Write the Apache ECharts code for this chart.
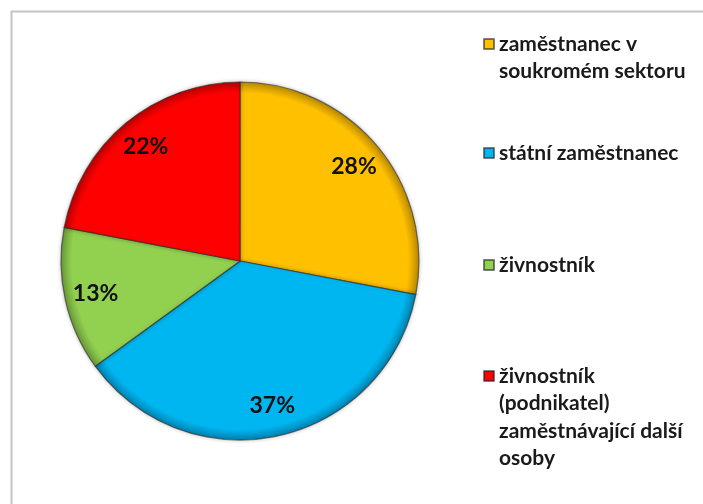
<!DOCTYPE html>
<html>
<head>
<meta charset="utf-8">
<script src="https://cdn.jsdelivr.net/npm/echarts@6/dist/echarts.min.js"></script>
<style>
html, body { margin: 0; padding: 0; background: #fff; }
#chart { width: 703px; height: 504px; }
</style>
</head>
<body>
<div id="chart"></div>
<script>
var categories = ['zaměstnanec v soukromém sektoru', 'státní zaměstnanec', 'živnostník', 'živnostník (podnikatel) zaměstnávající další osoby'];
var values = [28, 37, 13, 22];
var colors = ['#FFC000', '#00B6F0', '#92D050', '#FF0000'];
var rimColors = ['#B88A00', '#0082B0', '#6A9A38', '#B80000'];
// wrapped legend text, as in the original
var legendText = ['zaměstnanec v\nsoukromém sektoru', 'státní zaměstnanec', 'živnostník', 'živnostník\n(podnikatel)\nzaměstnávající další\nosoby'];
var iconY = [44, 153, 265, 376];

var font = 'Lato, "Open Sans", sans-serif';
var lh = 27.5;
var cx = 240, cy = 261, R = 179;

var pieData = categories.map(function (c, i) {
    return {
        name: c,
        value: values[i],
        itemStyle: {
            color: {
                type: 'radial', x: cx, y: cy, r: R, global: true,
                colorStops: [
                    { offset: 0, color: colors[i] },
                    { offset: 0.94, color: colors[i] },
                    { offset: 1, color: rimColors[i] }
                ]
            }
        }
    };
});

var legends = categories.map(function (c, i) {
    var n = legendText[i].split('\n').length;
    var pad = '';
    for (var k = 1; k < n; k++) pad += ' \n';
    return {
        data: [{ name: c, itemStyle: { color: colors[i] } }],
        left: 483,
        top: iconY[i] - (2 * n - 1) * lh / 2,
        padding: 0,
        orient: 'vertical',
        icon: 'rect',
        itemWidth: 10,
        itemHeight: 10,
        selectedMode: false,
        formatter: function () { return pad + legendText[i]; },
        textStyle: {
            fontFamily: font,
            fontWeight: 'bold',
            fontSize: 21,
            color: '#1a1a1a',
            lineHeight: lh
        }
    };
});

var myChart = echarts.init(document.getElementById('chart'));
var option = {
    animation: false,
    graphic: [
        {
            type: 'rect',
            shape: { x: 11.5, y: 11.5, width: 720, height: 520 },
            style: { fill: 'none', stroke: '#c4c4c4', lineWidth: 2 },
            silent: true
        }
    ],
    legend: legends,
    series: [
        {
            name: 'slices',
            type: 'pie',
            center: [cx, cy],
            radius: [0, R],
            startAngle: 90,
            clockwise: true,
            data: pieData,
            label: { show: false },
            labelLine: { show: false },
            itemStyle: {
                borderColor: 'rgba(40,40,40,0.6)',
                borderWidth: 1.2,
                shadowColor: 'rgba(0,0,0,0.25)',
                shadowBlur: 4
            },
            emphasis: { disabled: true }
        },
        {
            name: 'labels',
            type: 'pie',
            center: [cx, cy],
            radius: [111, R],
            startAngle: 90,
            clockwise: true,
            silent: true,
            data: categories.map(function (c, i) { return { name: c, value: values[i] }; }),
            itemStyle: { color: 'rgba(0,0,0,0)' },
            label: {
                show: true,
                position: 'inside',
                formatter: '{c}%',
                fontFamily: font,
                fontWeight: 'bold',
                fontSize: 23,
                color: '#111'
            },
            labelLine: { show: false },
            emphasis: { disabled: true }
        }
    ]
};
myChart.setOption(option);
</script>
</body>
</html>
